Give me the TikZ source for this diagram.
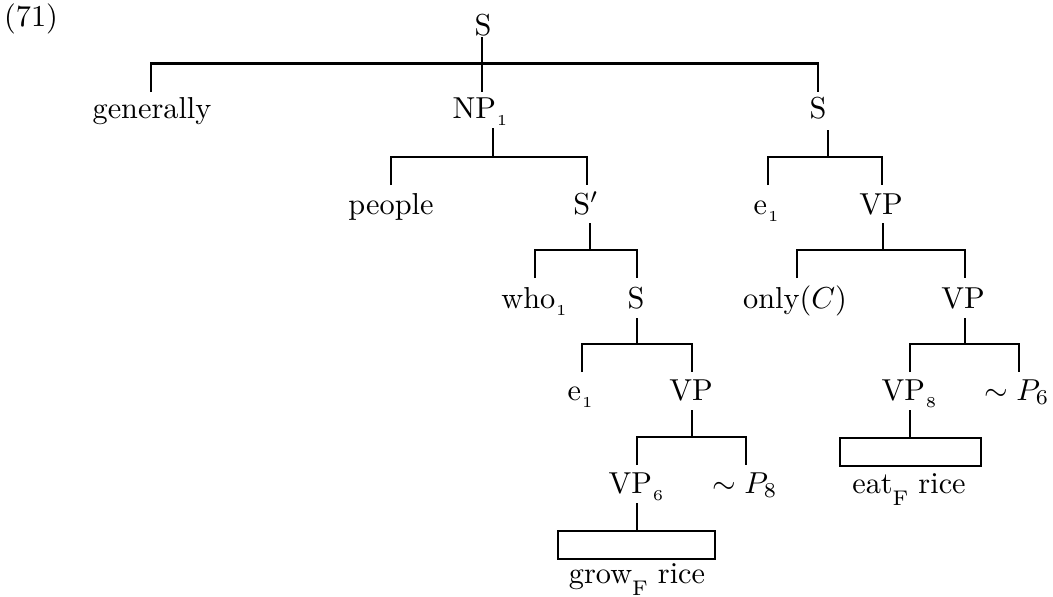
\documentclass[tikz,border=0pt]{standalone}
\newcommand\tsub[1]{\kern0.3pt\raisebox{-2.4pt}{\fontsize{5}{6}\selectfont #1}}
\newcommand\fsub{\raisebox{-4pt}{\scriptsize F}}
\begin{document}
\begin{tikzpicture}[x=0.33pt,y=-0.33pt,
  lbl/.style={inner sep=0pt, anchor=base},
  br/.style={line width=0.75pt},
  tbox/.style={draw, line width=0.75pt, inner sep=0pt, anchor=north}]
\useasboundingbox (0,0) rectangle (1053,596);
% labels
\node[lbl] (n71) at (31,26) {(71)};
\node[lbl] (S0) at (483,35) {S};
\node[lbl] (gen) at (152,118) {generally};
\node[lbl] (NP) at (480,118) {NP\tsub{1}};
\node[lbl] (S1) at (818,118) {S};
\node[lbl] (people) at (391,214) {people};
\node[lbl] (Sp) at (586,214) {S$'$};
\node[lbl] (e1a) at (766,214) {e\tsub{1}};
\node[lbl] (VPa) at (881,214) {VP};
\node[lbl] (who) at (534,308) {who\tsub{1}};
\node[lbl] (S2) at (636,308) {S};
\node[lbl] (only) at (795,308) {only$(C)$};
\node[lbl] (VPb) at (963,308) {VP};
\node[lbl] (e1b) at (580,400) {e\tsub{1}};
\node[lbl] (VPc) at (691,400) {VP};
\node[lbl] (VP8) at (909,400) {VP\tsub{8}};
\node[lbl] (nP6) at (1017,400) {$\sim P_6$};
\node[lbl] (VP6) at (636,493) {VP\tsub{6}};
\node[lbl] (nP8) at (745,493) {$\sim P_8$};
\node[tbox, minimum width=51.8pt, minimum height=9.2pt] (box6) at (636.5,530) {};
\node[tbox, minimum width=46.5pt, minimum height=9.2pt] (box8) at (910.5,437) {};
\node[lbl] (grow) at (637,583) {grow\fsub\ rice};
\node[lbl] (eat) at (909,493) {eat\fsub\ rice};
% connector end points
\coordinate (S0-b) at (482,37);
\coordinate (gen-t) at (151,92);
\coordinate (NP-t) at (482,92);
\coordinate (S1-t) at (818,92);
\coordinate (bar0) at (0,63.5);
\coordinate (NP-b) at (493,128);
\coordinate (people-t) at (391,185);
\coordinate (Sp-t) at (587,185);
\coordinate (barNP) at (0,157);
\coordinate (S1-b) at (828,130);
\coordinate (e1a-t) at (768,185);
\coordinate (VPa-t) at (882,185);
\coordinate (Sp-b) at (590,223);
\coordinate (who-t) at (535,278);
\coordinate (S2-t) at (637,278);
\coordinate (barSp) at (0,250);
\coordinate (VPa-b) at (883,223);
\coordinate (only-t) at (797,278);
\coordinate (VPb-t) at (965,278);
\coordinate (S2-b) at (637,318);
\coordinate (e1b-t) at (582,372);
\coordinate (VPc-t) at (692,372);
\coordinate (barS2) at (0,344);
\coordinate (VPb-b) at (965,318);
\coordinate (VP8-t) at (910,372);
\coordinate (nP6-t) at (1019,372);
\coordinate (VPc-b) at (692,410);
\coordinate (VP6-t) at (637,465);
\coordinate (nP8-t) at (746,465);
\coordinate (barVPc) at (0,437);
\coordinate (VP8-b) at (910,410);
\coordinate (VP6-b) at (637,503);
% connectors
\draw[br] (S0-b) -- (NP-t);
\draw[br] (gen-t) -- (gen-t |- bar0) -- (S1-t |- bar0) -- (S1-t);
\draw[br] (NP-b) -- (NP-b |- barNP);
\draw[br] (people-t) -- (people-t |- barNP) -- (Sp-t |- barNP) -- (Sp-t);
\draw[br] (S1-b) -- (S1-b |- barNP);
\draw[br] (e1a-t) -- (e1a-t |- barNP) -- (VPa-t |- barNP) -- (VPa-t);
\draw[br] (Sp-b) -- (Sp-b |- barSp);
\draw[br] (who-t) -- (who-t |- barSp) -- (S2-t |- barSp) -- (S2-t);
\draw[br] (VPa-b) -- (VPa-b |- barSp);
\draw[br] (only-t) -- (only-t |- barSp) -- (VPb-t |- barSp) -- (VPb-t);
\draw[br] (S2-b) -- (S2-b |- barS2);
\draw[br] (e1b-t) -- (e1b-t |- barS2) -- (VPc-t |- barS2) -- (VPc-t);
\draw[br] (VPb-b) -- (VPb-b |- barS2);
\draw[br] (VP8-t) -- (VP8-t |- barS2) -- (nP6-t |- barS2) -- (nP6-t);
\draw[br] (VPc-b) -- (VPc-b |- barVPc);
\draw[br] (VP6-t) -- (VP6-t |- barVPc) -- (nP8-t |- barVPc) -- (nP8-t);
\draw[br] (VP8-b) -- (VP8-b |- box8.north);
\draw[br] (VP6-b) -- (VP6-b |- box6.north);
\end{tikzpicture}
\end{document}
